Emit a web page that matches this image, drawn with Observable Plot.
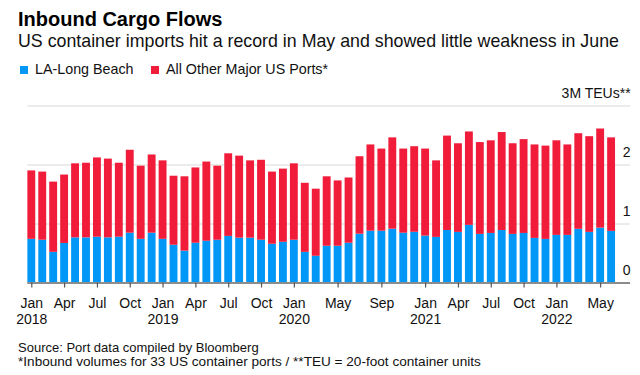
<!DOCTYPE html>
<html>
<head>
<meta charset="utf-8">
<script src="https://cdn.jsdelivr.net/npm/d3@7"></script>
<script src="https://cdn.jsdelivr.net/npm/@observablehq/plot@0.6"></script>
<style>
  html, body { margin: 0; padding: 0; background: #fff; }
  body { width: 640px; height: 375px; position: relative; overflow: hidden;
         font-family: "Liberation Sans", Arial, Helvetica, sans-serif; color: #111; }
  .t { position: absolute; line-height: 1; white-space: nowrap; }
  #title { left: 18px; top: 9px; font-size: 20px; font-weight: bold; color: #000; }
  #subtitle { left: 18px; top: 33.3px; font-size: 17.8px; color: #111; }
  .sw { position: absolute; width: 8px; height: 8px; }
  .lg { font-size: 14.3px; top: 61.9px; color: #111; }
  .note { left: 18px; color: #111; }
  #chart { position: absolute; left: 0; top: 80px; }
</style>
</head>
<body>
<div id="title" class="t">Inbound Cargo Flows</div>
<div id="subtitle" class="t">US container imports hit a record in May and showed little weakness in June</div>
<div class="sw" style="left:20px; top:66px; background:#0097f6"></div>
<div class="t lg" style="left:35px">LA-Long Beach</div>
<div class="sw" style="left:151px; top:66px; background:#f01c3a"></div>
<div class="t lg" style="left:166px">All Other Major US Ports*</div>
<div id="chart"></div>
<div class="t note" style="top:341px; font-size:13px">Source: Port data compiled by Bloomberg</div>
<div class="t note" style="top:354.5px; font-size:13.6px">*Inbound volumes for 33 US container ports / **TEU = 20-foot container units</div>
<script>
// Series names
const seriesNames = ["LA-Long Beach", "All Other Major US Ports*"];
const seriesColors = ["#0097f6", "#f01c3a"];

// Months Jan 2018 .. Jun 2022
const monthNames = ["Jan","Feb","Mar","Apr","May","Jun","Jul","Aug","Sep","Oct","Nov","Dec"];
const months = [];
for (let y = 2018; y <= 2022; y++) {
  for (let m = 0; m < 12; m++) {
    if (y === 2022 && m > 5) break;
    months.push(`${y}-${String(m + 1).padStart(2, "0")}`);
  }
}

// Million TEUs
const laLongBeach = [
  0.74, 0.725, 0.52, 0.67, 0.765, 0.765, 0.776, 0.765, 0.776, 0.844, 0.74, 0.844,
  0.74, 0.64, 0.54, 0.674, 0.708, 0.725, 0.79, 0.76, 0.76, 0.725, 0.657, 0.69,
  0.725, 0.52, 0.453, 0.623, 0.623, 0.674, 0.827, 0.878, 0.878, 0.912, 0.844, 0.86,
  0.795, 0.773, 0.89, 0.858, 0.977, 0.824, 0.84, 0.89, 0.824, 0.84, 0.756, 0.739,
  0.807, 0.807, 0.91, 0.858, 0.93, 0.875
];
const otherPorts = [
  1.16, 1.155, 1.19, 1.16, 1.255, 1.265, 1.344, 1.335, 1.254, 1.406, 1.24, 1.326,
  1.33, 1.17, 1.26, 1.276, 1.342, 1.255, 1.40, 1.39, 1.31, 1.355, 1.223, 1.24,
  1.295, 1.17, 1.137, 1.177, 1.107, 1.106, 1.313, 1.462, 1.392, 1.548, 1.426, 1.45,
  1.475, 1.297, 1.60, 1.502, 1.583, 1.556, 1.57, 1.66, 1.536, 1.59, 1.584, 1.581,
  1.603, 1.533, 1.62, 1.622, 1.68, 1.585
];

// Axis ticks
const xTickMonths = ["2018-01","2018-04","2018-07","2018-10","2019-01","2019-04","2019-07","2019-10",
  "2020-01","2020-05","2020-09","2021-01","2021-04","2021-07","2021-10","2022-01","2022-05"];
const yTickValues = [0, 1, 2, 3];
const yTickLabels = ["0", "1", "2", "3M TEUs**"];

const rows = [];
months.forEach((m, i) => {
  rows.push({month: m, series: seriesNames[0], value: laLongBeach[i]});
  rows.push({month: m, series: seriesNames[1], value: otherPorts[i]});
});
const yearTicks = xTickMonths.filter(k => k.endsWith("-01"));
const yTicks = yTickValues.map((v, i) => ({v, label: yTickLabels[i]}));

const chart = Plot.plot({
  width: 640,
  height: 260,
  marginTop: 25.5,
  marginBottom: 57.5,
  marginLeft: 24.3,
  marginRight: 21.9,
  style: {fontFamily: '"Liberation Sans", Arial, Helvetica, sans-serif', fontSize: "14px", color: "#111", background: "#fff"},
  x: {type: "band", domain: months, padding: 0.28, axis: null},
  y: {domain: [0, 3], axis: null},
  color: {domain: seriesNames, range: seriesColors},
  marks: [
    Plot.ruleY(yTickValues.filter(v => v > 0), {stroke: "#d8d8d8", strokeWidth: 1, insetLeft: 3, insetRight: -12}),
    Plot.barY(rows, {x: "month", y: "value", fill: "series", order: seriesNames}),
    Plot.ruleY([0], {stroke: "#8c8c8c", strokeWidth: 2, insetLeft: 3, insetRight: -12}),
    Plot.axisX({ticks: xTickMonths, tickSize: 5, stroke: "#555", strokeWidth: 1.2,
      tickFormat: d => monthNames[+d.slice(5) - 1], tickPadding: 10, fontSize: 14, fill: "#111", label: null}),
    Plot.text(yearTicks, {x: d => d, text: d => d.slice(0, 4), frameAnchor: "bottom", dy: 40.5, fontSize: 14, fill: "#111"}),
    Plot.text(yTicks, {y: "v", text: "label", frameAnchor: "right", textAnchor: "end", dx: 12, dy: -12.2, fontSize: 14, fill: "#111"})
  ]
});
document.getElementById("chart").appendChild(chart);
</script>
</body>
</html>
